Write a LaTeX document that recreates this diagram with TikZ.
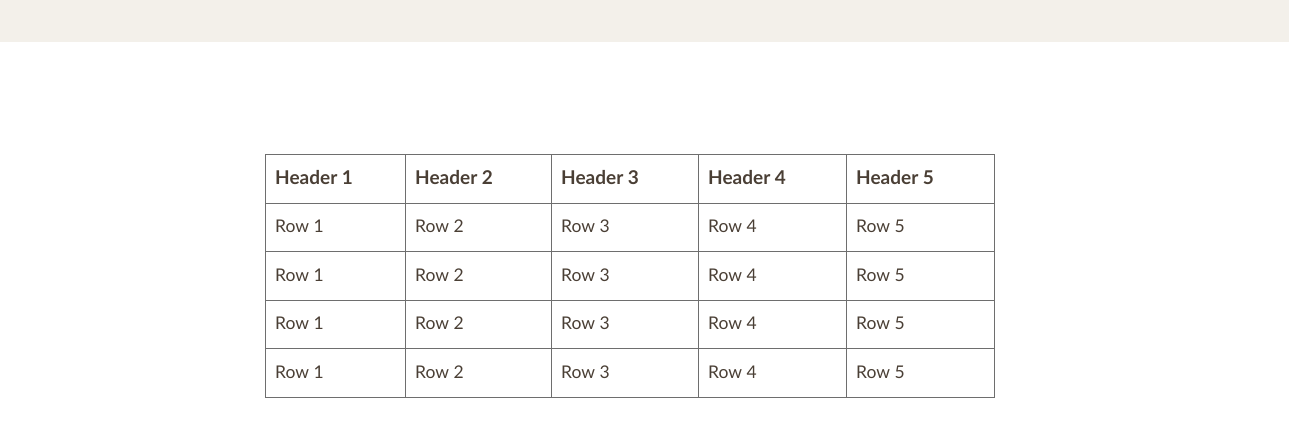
\documentclass[tikz,border=0pt]{standalone}
\usepackage{fontspec}
\setmainfont{Lato}
\definecolor{band}{HTML}{F3F0EA}
\definecolor{grid}{HTML}{6E6E6E}
\definecolor{ink}{HTML}{4A3F35}
\begin{document}
\begin{tikzpicture}[x=1pt,y=-1pt,
  cell/.style={anchor=west,inner sep=0pt,text=ink,font=\fontsize{17.5}{20}\selectfont},
  head/.style={cell,font=\fontsize{19}{22}\selectfont\bfseries}]
\useasboundingbox (0,0) rectangle (1289,429);
\fill[band] (0,0) rectangle (1289,42);
\draw[grid,line width=0.9pt] (265,154) rectangle (994,397);
\foreach \x in {405,551,698,846} \draw[grid,line width=0.9pt] (\x,154) -- (\x,397);
\foreach \y in {203,251,300,348} \draw[grid,line width=0.9pt] (265,\y) -- (994,\y);
\foreach \x/\n [count=\i] in {275/1,415/2,561/3,708/4,856/5} {
  \node[head] (h\i) at (\x,178) {Header \n};
  \foreach \y [count=\j] in {226,275,323,372}
    \node[cell] (r\j c\i) at (\x,\y) {Row \n};
}
\end{tikzpicture}
\end{document}
